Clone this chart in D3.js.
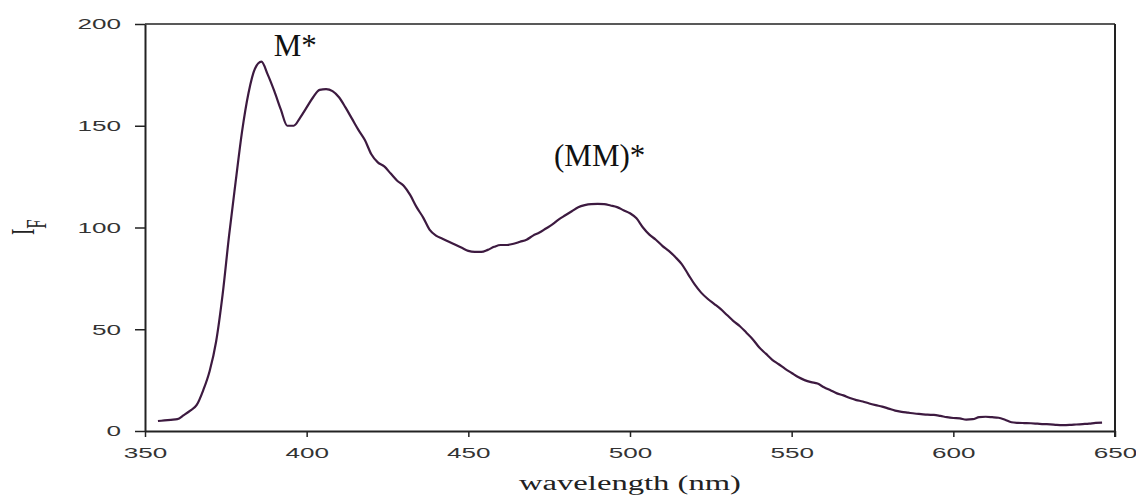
<!DOCTYPE html>
<html>
<head>
<meta charset="utf-8">
<script src="https://cdn.jsdelivr.net/npm/d3@7"></script>
<style>
	html, body { margin: 0; padding: 0; background: #fff; }
	svg { display: block; }
	.tick text { font-family: "Liberation Sans", Arial, sans-serif; font-size: 15px; fill: #333; }
</style>
</head>
<body>
<div id="chart"></div>
<script>
// wavelength (nm) and fluorescence intensity
var wavelength = [354,356,358,360,362,364,366,368,370,372,374,376,378,380,382,384,386,388,390,392,
	394,396,398,400,402,404,406,408,410,412,414,416,418,420,422,424,426,428,430,432,
	434,436,438,440,442,444,446,448,450,452,454,456,458,460,462,464,466,468,470,472,
	474,476,478,480,482,484,486,488,490,492,494,496,498,500,502,504,506,508,510,512,
	514,516,518,520,522,524,526,528,530,532,534,536,538,540,542,544,546,548,550,552,
	554,556,558,560,562,564,566,568,570,572,574,576,578,580,582,584,586,588,590,592,
	594,596,598,600,602,604,606,608,610,612,614,616,618,620,622,624,626,628,630,632,
	634,636,638,640,642,644,646];

var intensity = [4.9,5.2,5.5,5.8,7.8,10,12.8,20,29.5,44,67,96,122,147,166,178,181.5,175,167,158,
	150,150,154,159,164,167.6,168,167,164,159,153.5,148,143,136,132,130,126.5,123,120.5,116,
	110,105,99,96,94.5,93,91.5,90,88.5,88,88,89,90.5,91.4,91.4,92,93,94,96,97.5,
	99.5,101.5,104,106,108,110,111,111.5,111.6,111.5,110.8,110,108.5,107,104.5,100,96.5,94,91,88.5,
	85.5,82,77,72,68,65,62.5,60,57,54,51.5,48.3,45,41,38,35,32.8,30.5,28.5,26.5,
	25,24,23.3,21.5,20,18.5,17.5,16.2,15.2,14.5,13.5,12.7,12,11,10,9.4,9,8.6,8.3,8,
	7.9,7.4,6.8,6.4,6.2,5.6,5.8,6.8,7,6.8,6.5,5.5,4.3,4,3.9,3.8,3.6,3.4,3.3,3,
	2.9,3,3.2,3.4,3.6,4,4.1];

var xTicks = [350,400,450,500,550,600,650],
yTicks = [0,50,100,150,200];

var peakLabels = [
	{"text": "M*", "x": 389.8, "y": 184.5},
	{"text": "(MM)*", "x": 476.5, "y": 130}
];

var width = 1136,
height = 497,
margin = {"top": 24, "right": 21, "bottom": 66, "left": 145};

var data = wavelength.map(function(w, i) { return {"w": w, "v": intensity[i]}; });

var svg = d3.select("#chart").append("svg")
	.attr("width", width)
	.attr("height", height);

var x = d3.scaleLinear()
	.domain([350, 650])
	.range([margin.left, width - margin.right]);

var y = d3.scaleLinear()
	.domain([0, 200])
	.range([height - margin.bottom, margin.top]);

// x axis
svg.append("g")
	.attr("transform", `translate(0,${height - margin.bottom})`)
	.call(d3.axisBottom(x).tickValues(xTicks).tickSize(6).tickSizeOuter(0).tickPadding(10))
	.call(g => g.select(".domain").attr("stroke", "#222").attr("stroke-width", 2))
	.call(g => g.selectAll(".tick line").attr("stroke", "#222").attr("stroke-width", 1.5))
	.call(g => g.selectAll(".tick text")
		.attr("textLength", d => String(d).length * 14.5)
		.attr("lengthAdjust", "spacingAndGlyphs"));

// y axis
svg.append("g")
	.attr("transform", `translate(${margin.left},0)`)
	.call(d3.axisLeft(y).tickValues(yTicks).tickSize(10).tickSizeOuter(0).tickPadding(14))
	.call(g => g.select(".domain").attr("stroke", "#222").attr("stroke-width", 2))
	.call(g => g.selectAll(".tick line").attr("stroke", "#222").attr("stroke-width", 1.5))
	.call(g => g.selectAll(".tick text")
		.attr("textLength", d => String(d).length * 14.5)
		.attr("lengthAdjust", "spacingAndGlyphs"));

// top and right frame
svg.append("line")
	.attr("x1", margin.left).attr("x2", width - margin.right)
	.attr("y1", y(200)).attr("y2", y(200))
	.attr("stroke", "#222").attr("stroke-width", 1.5);

svg.append("line")
	.attr("x1", width - margin.right).attr("x2", width - margin.right)
	.attr("y1", y(200)).attr("y2", height - margin.bottom + 6)
	.attr("stroke", "#222").attr("stroke-width", 2);

// spectrum
var line = d3.line()
	.x(d => x(d.w))
	.y(d => y(d.v))
	.curve(d3.curveMonotoneX);

svg.append("path")
	.datum(data)
	.attr("fill", "none")
	.attr("stroke", "#3d1a40")
	.attr("stroke-width", 2.2)
	.attr("stroke-linejoin", "round")
	.attr("d", line);

// peak annotations
svg.selectAll(".peak")
	.data(peakLabels)
	.enter().append("text")
	.attr("class", "peak")
	.attr("x", d => x(d.x))
	.attr("y", d => y(d.y))
	.attr("font-family", "'Liberation Serif', 'Times New Roman', serif")
	.attr("font-size", 31)
	.attr("fill", "#111")
	.text(d => d.text);

// axis titles
svg.append("text")
	.attr("x", (margin.left + width - margin.right) / 2)
	.attr("y", 490)
	.attr("text-anchor", "middle")
	.attr("font-family", "'Liberation Serif', 'Times New Roman', serif")
	.attr("font-size", 20)
	.attr("fill", "#222")
	.attr("textLength", 222)
	.attr("lengthAdjust", "spacingAndGlyphs")
	.text("wavelength (nm)");

var yTitle = svg.append("text")
	.attr("transform", "translate(34,235) scale(1.75,1) rotate(-90)")
	.attr("font-family", "'Liberation Serif', 'Times New Roman', serif")
	.attr("font-size", 19)
	.attr("fill", "#222");
yTitle.append("tspan").text("I");
yTitle.append("tspan").attr("dy", 7).attr("font-size", 17).text("F");
</script>
</body>
</html>
